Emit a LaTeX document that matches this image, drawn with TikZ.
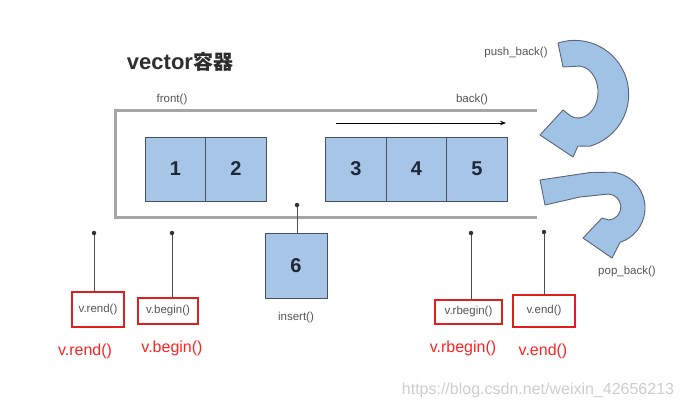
\documentclass[tikz,border=0pt]{standalone}
\usepackage{fontspec}
\setmainfont{Liberation Sans}
\newfontfamily\cjkfont{Noto Sans CJK SC}
\usetikzlibrary{arrows.meta}
\definecolor{boxfill}{RGB}{167,197,230}
\definecolor{boxdraw}{RGB}{70,80,100}
\definecolor{arrfill}{RGB}{160,194,228}
\definecolor{arrdraw}{RGB}{90,100,120}
\definecolor{numc}{RGB}{30,40,55}
\definecolor{graytxt}{RGB}{85,85,85}
\definecolor{contc}{RGB}{165,165,165}
\definecolor{redbox}{RGB}{225,30,30}
\definecolor{redtxt}{RGB}{255,35,35}
\definecolor{wmark}{RGB}{205,205,205}
\definecolor{titlec}{RGB}{45,45,45}
\begin{document}
\begin{tikzpicture}[x=1pt,y=-1pt,
  cell/.style={draw=boxdraw,fill=boxfill,line width=0.9pt,minimum width=60.5pt,minimum height=64pt,inner sep=0pt,font=\fontsize{20}{24}\selectfont\bfseries,text=numc},
  dotnode/.style={circle,fill=black!80,inner sep=0pt,minimum size=4.5pt},
  ptr/.style={draw=black!70,line width=0.8pt},
  rbox/.style={draw=redbox,line width=2.5pt,inner sep=0pt,font=\fontsize{11.5}{13}\selectfont,text=graytxt},
  small/.style={font=\fontsize{11.5}{13}\selectfont,text=graytxt,inner sep=0pt},
  redlabel/.style={font=\fontsize{16}{19}\selectfont,text=redtxt,inner sep=0pt},
  cont/.style={draw=contc,line width=3pt},
  bigarrow/.style={fill=arrfill,draw=arrdraw,line width=0.9pt,line join=round}]
\useasboundingbox (0,0) rectangle (684,408);
\fill[white] (0,0) rectangle (684,408);

% title
\node[font=\fontsize{22}{26}\selectfont\bfseries,text=titlec,inner sep=0pt] (title) at (180,62) {vector{\cjkfont\bfseries\fontsize{20}{24}\selectfont 容器}};

% container
\coordinate (ct1) at (537,110);
\coordinate (ct2) at (115,110);
\coordinate (ct3) at (115,217);
\coordinate (ct4) at (537,217);
\draw[cont] (ct1) -- (ct2) -- (ct3) -- (ct4);

\node[small] (front) at (172,100) {front()};
\node[small] (back) at (472,100) {back()};

% inner arrow
\coordinate (as) at (336,123);
\coordinate (ae) at (506,123);
\draw[line width=0.9pt,-{Stealth[length=6pt,width=4.5pt]}] (as) -- (ae);

% cells
\node[cell] (c1) at (175.5,169) {1};
\node[cell] (c2) at (236,169) {2};
\node[cell] (c3) at (356,169) {3};
\node[cell] (c4) at (416.5,169) {4};
\node[cell] (c5) at (477,169) {5};
\node[cell,minimum width=62pt,minimum height=65pt] (c6) at (296,265.5) {6};
\node[small] (ins) at (296,318) {insert()};
\node[dotnode] (dins) at (297,205) {};
\draw[ptr] (dins) -- (dins |- c6.north);

% push_back arrow
\draw[bigarrow] (558,43) arc[start angle=-108, end angle=74, radius=54]
  -- (578,146) -- (573,157) -- (540,135) -- (563,110) -- (571.2,116.4)
  arc[start angle=110, end angle=-100, x radius=20, y radius=26] -- (563,67) -- cycle;
\node[small] (push) at (516,53) {push\_back()};

% pop_back arrow
\draw[bigarrow] (540,180) -- (590,172.5) -- (612.8,172.2) arc[start angle=-84, end angle=72, radius=36]
  -- (612,258) -- (583,238) -- (602,218) -- (609,220)
  arc[start angle=85, end angle=-88, radius=13] -- (580,197) -- (545,205) -- cycle;
\node[small] (pop) at (627,272) {pop\_back()};

% pointers
\node[dotnode] (d1) at (94,233) {};
\node[dotnode] (d2) at (172,233) {};
\node[dotnode] (d3) at (471,233) {};
\node[dotnode] (d4) at (544,232) {};
\node[rbox,minimum width=52pt,minimum height=35pt] (r1) at (98,309.5) {v.rend()};
\node[rbox,minimum width=60pt,minimum height=26pt] (r2) at (168,311) {v.begin()};
\node[rbox,minimum width=67pt,minimum height=24pt] (r3) at (468.5,312) {v.rbegin()};
\node[rbox,minimum width=62pt,minimum height=32pt] (r4) at (544,311) {v.end()};
\draw[ptr] (d1) -- (d1 |- r1.north);
\draw[ptr] (d2) -- (d2 |- r2.north);
\draw[ptr] (d3) -- (d3 |- r3.north);
\draw[ptr] (d4) -- (d4 |- r4.north);

\node[redlabel] (l1) at (85,351) {v.rend()};
\node[redlabel] (l2) at (172,348) {v.begin()};
\node[redlabel] (l3) at (463,348) {v.rbegin()};
\node[redlabel] (l4) at (543,351) {v.end()};

\node[font=\fontsize{16}{19}\selectfont,text=wmark,inner sep=0pt] (wm) at (538,390) {https://blog.csdn.net/weixin\_42656213};
\end{tikzpicture}
\end{document}
